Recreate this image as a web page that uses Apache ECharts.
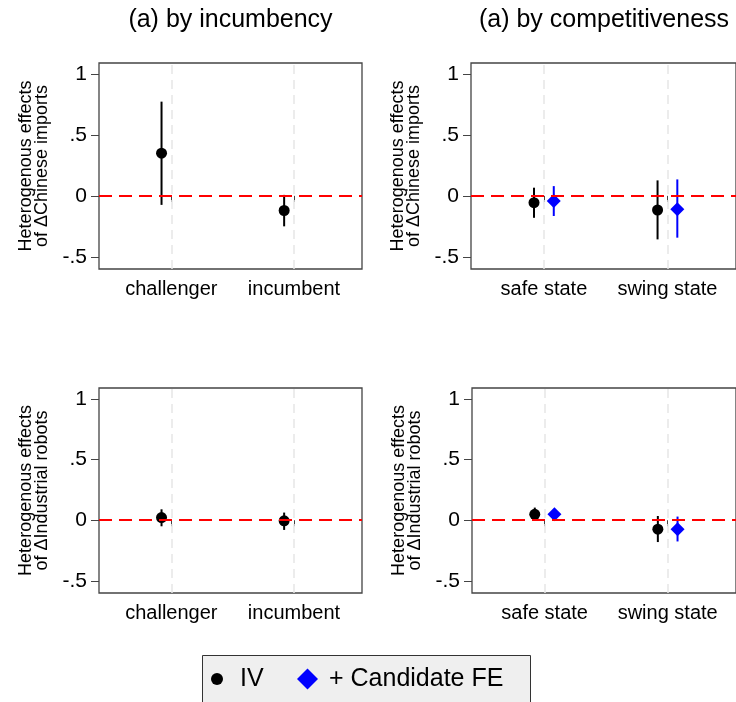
<!DOCTYPE html>
<html>
<head>
<meta charset="utf-8">
<script src="https://cdn.jsdelivr.net/npm/echarts@6/dist/echarts.min.js"></script>
<style>html,body{margin:0;padding:0;background:#fff;}#c{width:736px;height:702px;}</style>
</head>
<body>
<div id="c"></div>
<script>
// ---------- data ----------
const panelTitles = ['(a) by incumbency', '(a) by competitiveness'];
const yTitleChina = 'Heterogenous effects\nof \u0394Chinese imports';
const yTitleRobots = 'Heterogenous effects\nof \u0394Industrial robots';
const incCats = ['challenger', 'incumbent'];
const compCats = ['safe state', 'swing state'];
const yTicks = [-0.5, 0, 0.5, 1];
const yTickLabels = ['-.5', '0', '.5', '1'];

// Chinese imports, by incumbency (IV)
const chinaIncEst = [0.35, -0.12];
const chinaIncLo  = [-0.074, -0.25];
const chinaIncHi  = [0.773, 0.008];
// Chinese imports, by competitiveness
const chinaCompIVEst = [-0.056, -0.116];
const chinaCompIVLo  = [-0.18, -0.357];
const chinaCompIVHi  = [0.067, 0.127];
const chinaCompFEEst = [-0.042, -0.11];
const chinaCompFELo  = [-0.165, -0.343];
const chinaCompFEHi  = [0.08, 0.135];
// Industrial robots, by incumbency (IV)
const robIncEst = [0.022, -0.005];
const robIncLo  = [-0.05, -0.08];
const robIncHi  = [0.09, 0.063];
// Industrial robots, by competitiveness
const robCompIVEst = [0.049, -0.074];
const robCompIVLo  = [-0.005, -0.18];
const robCompIVHi  = [0.104, 0.035];
const robCompFEEst = [0.049, -0.074];
const robCompFELo  = [0.01, -0.175];
const robCompFEHi  = [0.09, 0.03];

const seriesNames = ['IV', '+ Candidate FE'];

// ---------- layout / style ----------
const FONT = '"Liberation Sans", Arial, Helvetica, sans-serif';
const X_MIN = 0.41, X_MAX = 2.555;
const Y_MIN = -0.6, Y_MAX = 1.09;
const OFF = 0.08;
const grids = [
  {left: 99, top: 63, width: 263, height: 206},
  {left: 471, top: 63, width: 266, height: 206},
  {left: 99, top: 388, width: 263, height: 205},
  {left: 472, top: 388, width: 266, height: 205}
];
const panelCats = [incCats, compCats, incCats, compCats];
const panelYTitle = [yTitleChina, yTitleChina, yTitleRobots, yTitleRobots];

const chart = echarts.init(document.getElementById('c'), null, {renderer: 'canvas'});

const xAxes = grids.map((g, i) => ({
  type: 'value', gridIndex: i, min: X_MIN, max: X_MAX,
  axisLine: {show: false},
  axisTick: {show: true, length: 6, lineStyle: {color: '#444', width: 1}, customValues: panelCats[i].map((c, k) => k + 1)},
  axisLabel: {show: true, margin: 10, fontSize: 20, fontFamily: FONT, color: '#000',
    customValues: panelCats[i].map((c, k) => k + 1),
    formatter: (v) => panelCats[i][Math.round(v) - 1] || ''},
  splitLine: {show: false}
}));
const yAxes = grids.map((g, i) => ({
  type: 'value', gridIndex: i, min: Y_MIN, max: Y_MAX,
  axisLine: {show: false},
  axisTick: {show: true, length: 8, lineStyle: {color: '#444', width: 1}, customValues: yTicks},
  axisLabel: {show: true, margin: 12, fontSize: 21, fontFamily: FONT, color: '#000',
    customValues: yTicks,
    formatter: (v) => { const k = yTicks.findIndex(t => Math.abs(t - v) < 1e-9); return k >= 0 ? yTickLabels[k] : ''; }},
  splitLine: {show: false},
  name: panelYTitle[i], nameLocation: 'middle', nameRotate: 90, nameGap: 49,
  nameTextStyle: {fontSize: 18, lineHeight: 16, fontFamily: FONT, color: '#000'}
}));

function pts(est, shift) { return est.map((v, k) => [k + 1 + shift, v]); }
function bars(lo, hi, shift) { return lo.map((v, k) => [k + 1 + shift, v, hi[k]]); }

function ciSeries(i, lo, hi, shift, color) {
  return {
    type: 'custom', name: 'ci' + i + color, xAxisIndex: i, yAxisIndex: i, z: 3,
    silent: true,
    encode: {x: 0, y: [1, 2]},
    data: bars(lo, hi, shift),
    renderItem: function (params, api) {
      const p1 = api.coord([api.value(0), api.value(1)]);
      const p2 = api.coord([api.value(0), api.value(2)]);
      return {type: 'line', shape: {x1: p1[0], y1: p1[1], x2: p2[0], y2: p2[1]},
              style: {stroke: color, lineWidth: 2}};
    }
  };
}
function ptSeries(i, est, shift, isFE) {
  return {
    type: 'scatter', name: isFE ? seriesNames[1] : seriesNames[0], xAxisIndex: i, yAxisIndex: i, z: 4,
    symbol: isFE ? 'diamond' : 'circle', symbolSize: isFE ? 14 : 11,
    itemStyle: {color: isFE ? '#0000ff' : '#000000', opacity: 1},
    data: pts(est, shift), silent: true
  };
}
function refSeries(i) {
  return {
    type: 'scatter', name: 'ref' + i, xAxisIndex: i, yAxisIndex: i, data: [], z: 1, silent: true,
    markLine: {
      silent: true, symbol: ['none', 'none'], label: {show: false}, animation: false,
      data: [
        ...panelCats[i].map((c, k) => ({xAxis: k + 1, lineStyle: {color: '#e6e6e6', type: [9, 6], width: 1.5}})),
        {yAxis: 0, lineStyle: {color: '#ff0000', type: [13, 7], width: 2}}
      ]
    }
  };
}

const series = [];
[0, 1, 2, 3].forEach(i => series.push(refSeries(i)));
series.push(ciSeries(0, chinaIncLo, chinaIncHi, -OFF, '#000'));
series.push(ptSeries(0, chinaIncEst, -OFF, false));
series.push(ciSeries(1, chinaCompIVLo, chinaCompIVHi, -OFF, '#000'));
series.push(ptSeries(1, chinaCompIVEst, -OFF, false));
series.push(ciSeries(1, chinaCompFELo, chinaCompFEHi, OFF, '#0000ff'));
series.push(ptSeries(1, chinaCompFEEst, OFF, true));
series.push(ciSeries(2, robIncLo, robIncHi, -OFF, '#000'));
series.push(ptSeries(2, robIncEst, -OFF, false));
series.push(ciSeries(3, robCompIVLo, robCompIVHi, -OFF, '#000'));
series.push(ptSeries(3, robCompIVEst, -OFF, false));
series.push(ciSeries(3, robCompFELo, robCompFEHi, OFF, '#0000ff'));
series.push(ptSeries(3, robCompFEEst, OFF, true));

const option = {
  animation: false,
  backgroundColor: '#ffffff',
  title: [
    {text: panelTitles[0], left: 230.5, top: 8, textAlign: 'center', padding: 0,
     textStyle: {fontSize: 25, fontWeight: 'normal', fontFamily: FONT, color: '#000'}},
    {text: panelTitles[1], left: 604, top: 8, textAlign: 'center', padding: 0,
     textStyle: {fontSize: 25, fontWeight: 'normal', fontFamily: FONT, color: '#000'}}
  ],
  graphic: [
    {type: 'rect', left: 202, top: 655, shape: {width: 328, height: 60}, z: 0,
     style: {fill: '#efefef', stroke: '#333', lineWidth: 1}}
  ],
  legend: [
    {data: [seriesNames[0]], left: 211, top: 666, padding: 0, itemWidth: 12, itemHeight: 12,
     selectedMode: false, z: 5,
     textStyle: {fontSize: 25, fontFamily: FONT, color: '#000', lineHeight: 26, padding: [0, 0, 0, 12]}},
    {data: [seriesNames[1]], left: 297, top: 666, padding: 0, itemWidth: 21, itemHeight: 21,
     selectedMode: false, z: 5,
     textStyle: {fontSize: 25, fontFamily: FONT, color: '#000', lineHeight: 26, padding: [0, 0, 0, 6]}}
  ],
  grid: grids.map(g => Object.assign({show: true, borderColor: '#444', borderWidth: 1.3, backgroundColor: 'transparent'}, g)),
  xAxis: xAxes,
  yAxis: yAxes,
  series: series
};
chart.setOption(option);
</script>
</body>
</html>
